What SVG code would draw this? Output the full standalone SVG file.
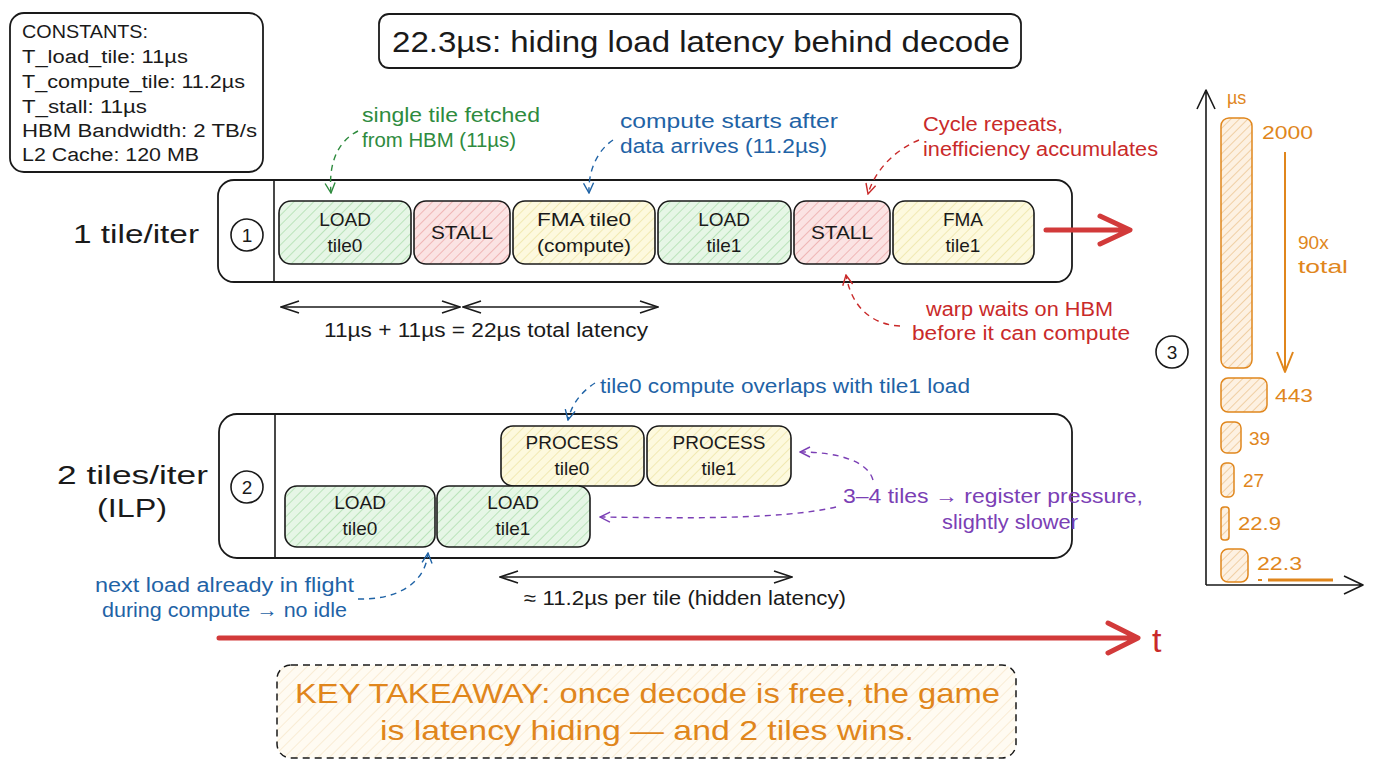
<svg xmlns="http://www.w3.org/2000/svg" width="1376" height="768" viewBox="0 0 1376 768">
<style>
text{font-family:"Liberation Sans","Noto Sans",sans-serif;}
.box{stroke:#1a1a1a;stroke-width:1.6;}
.lbl{font-size:19px;fill:#1a1a1a;text-anchor:middle;}
.frame{fill:#fff;stroke:#1a1a1a;stroke-width:1.8;}
.dash{fill:none;stroke-width:1.4;stroke-dasharray:6 5;}
.ann{font-size:20px;}
.cst{font-size:18px;fill:#1a1a1a;}
.blk{fill:none;stroke:#1a1a1a;stroke-width:1.8;}
.org{fill:#e0861c;}
</style>
<defs>
<pattern id="hG" width="7" height="7" patternUnits="userSpaceOnUse" patternTransform="rotate(45)"><rect width="7" height="7" fill="#e6f6e6"/><line x1="0" y1="0" x2="0" y2="7" stroke="#a8dca8" stroke-width="1.4"/></pattern>
<pattern id="hR" width="7" height="7" patternUnits="userSpaceOnUse" patternTransform="rotate(45)"><rect width="7" height="7" fill="#fbe3e3"/><line x1="0" y1="0" x2="0" y2="7" stroke="#eaa3a3" stroke-width="1.4"/></pattern>
<pattern id="hY" width="7" height="7" patternUnits="userSpaceOnUse" patternTransform="rotate(45)"><rect width="7" height="7" fill="#fdf9de"/><line x1="0" y1="0" x2="0" y2="7" stroke="#ece3a0" stroke-width="1.4"/></pattern>
<pattern id="hO" width="6" height="6" patternUnits="userSpaceOnUse" patternTransform="rotate(45)"><rect width="6" height="6" fill="#fdf1e2"/><line x1="0" y1="0" x2="0" y2="6" stroke="#e8b87a" stroke-width="1.2"/></pattern>
<pattern id="hK" width="8" height="8" patternUnits="userSpaceOnUse" patternTransform="rotate(45)"><rect width="8" height="8" fill="#fffbf2"/><line x1="0" y1="0" x2="0" y2="8" stroke="#f6e3c2" stroke-width="1.2"/></pattern>
<marker id="aG" viewBox="0 0 12 12" refX="11" refY="6" markerWidth="12" markerHeight="12" markerUnits="userSpaceOnUse" orient="auto"><path d="M1,1 L11,6 L1,11" fill="none" stroke="#2e8b3e" stroke-width="1.4"/></marker>
<marker id="aB" viewBox="0 0 12 12" refX="11" refY="6" markerWidth="12" markerHeight="12" markerUnits="userSpaceOnUse" orient="auto"><path d="M1,1 L11,6 L1,11" fill="none" stroke="#1f63a6" stroke-width="1.4"/></marker>
<marker id="aR" viewBox="0 0 12 12" refX="11" refY="6" markerWidth="12" markerHeight="12" markerUnits="userSpaceOnUse" orient="auto"><path d="M1,1 L11,6 L1,11" fill="none" stroke="#c92a2a" stroke-width="1.4"/></marker>
<marker id="aP" viewBox="0 0 12 12" refX="11" refY="6" markerWidth="12" markerHeight="12" markerUnits="userSpaceOnUse" orient="auto"><path d="M1,1 L11,6 L1,11" fill="none" stroke="#7b3fb5" stroke-width="1.4"/></marker>
<marker id="aK" viewBox="0 0 20 14" refX="19" refY="7" markerWidth="20" markerHeight="14" markerUnits="userSpaceOnUse" orient="auto-start-reverse"><path d="M1,1 L19,7 L1,13" fill="none" stroke="#1a1a1a" stroke-width="1.6"/></marker>
</defs>
<rect width="1376" height="768" fill="#ffffff"/>

<g id="constants">
<rect x="10" y="13" width="253" height="159" rx="14" class="blk"/>
<text x="22" y="38" class="cst" textLength="126" lengthAdjust="spacingAndGlyphs">CONSTANTS:</text>
<text x="22" y="63" class="cst" textLength="166" lengthAdjust="spacingAndGlyphs">T_load_tile: 11µs</text>
<text x="22" y="88" class="cst" textLength="223" lengthAdjust="spacingAndGlyphs">T_compute_tile: 11.2µs</text>
<text x="22" y="113" class="cst" textLength="125" lengthAdjust="spacingAndGlyphs">T_stall: 11µs</text>
<text x="22" y="137" class="cst" textLength="235" lengthAdjust="spacingAndGlyphs">HBM Bandwidth: 2 TB/s</text>
<text x="22" y="161" class="cst" textLength="177" lengthAdjust="spacingAndGlyphs">L2 Cache: 120 MB</text>
</g>

<g id="title">
<rect x="379" y="14" width="642" height="54" rx="10" class="blk"/>
<text x="392" y="52" font-size="30" fill="#1a1a1a" textLength="618" lengthAdjust="spacingAndGlyphs">22.3µs: hiding load latency behind decode</text>
</g>

<g id="row1">
<text x="73" y="243" font-size="25" fill="#1a1a1a" textLength="126" lengthAdjust="spacingAndGlyphs">1 tile/iter</text>
<rect x="218" y="180" width="854" height="102" rx="16" class="frame"/>
<line x1="274" y1="180" x2="274" y2="282" stroke="#1a1a1a" stroke-width="1.6"/>
<circle cx="247" cy="235" r="16" fill="none" stroke="#1a1a1a" stroke-width="1.6"/>
<text x="247" y="242" font-size="19" text-anchor="middle" fill="#1a1a1a">1</text>
</g>
<g id="r1-load0"><rect x="279" y="201" width="132" height="63" rx="12" fill="url(#hG)" class="box"/><text x="345" y="226" class="lbl">LOAD</text><text x="345" y="252" class="lbl">tile0</text></g>
<g id="r1-stall0"><rect x="414" y="201" width="96" height="63" rx="12" fill="url(#hR)" class="box"/><text x="462" y="239" class="lbl" textLength="62" lengthAdjust="spacingAndGlyphs">STALL</text></g>
<g id="r1-fma0"><rect x="513" y="201" width="142" height="63" rx="12" fill="url(#hY)" class="box"/><text x="584" y="226" class="lbl" textLength="94" lengthAdjust="spacingAndGlyphs">FMA tile0</text><text x="584" y="252" class="lbl" textLength="94" lengthAdjust="spacingAndGlyphs">(compute)</text></g>
<g id="r1-load1"><rect x="658" y="201" width="133" height="63" rx="12" fill="url(#hG)" class="box"/><text x="724" y="226" class="lbl">LOAD</text><text x="724" y="252" class="lbl">tile1</text></g>
<g id="r1-stall1"><rect x="794" y="201" width="96" height="63" rx="12" fill="url(#hR)" class="box"/><text x="842" y="239" class="lbl" textLength="62" lengthAdjust="spacingAndGlyphs">STALL</text></g>
<g id="r1-fma1"><rect x="893" y="201" width="141" height="63" rx="12" fill="url(#hY)" class="box"/><text x="963" y="226" class="lbl">FMA</text><text x="963" y="252" class="lbl">tile1</text></g>

<g id="row2">
<text x="57" y="484" font-size="25" fill="#1a1a1a" textLength="151" lengthAdjust="spacingAndGlyphs">2 tiles/iter</text>
<text x="97" y="517" font-size="25" fill="#1a1a1a" textLength="70" lengthAdjust="spacingAndGlyphs">(ILP)</text>
<rect x="219" y="414" width="853" height="144" rx="18" class="frame"/>
<line x1="275" y1="414" x2="275" y2="558" stroke="#1a1a1a" stroke-width="1.6"/>
<circle cx="247" cy="487" r="16" fill="none" stroke="#1a1a1a" stroke-width="1.6"/>
<text x="247" y="494" font-size="19" text-anchor="middle" fill="#1a1a1a">2</text>
</g>
<g id="r2-proc0"><rect x="501" y="426" width="143" height="60" rx="12" fill="url(#hY)" class="box"/><text x="572" y="449" class="lbl">PROCESS</text><text x="572" y="475" class="lbl">tile0</text></g>
<g id="r2-proc1"><rect x="647" y="426" width="144" height="60" rx="12" fill="url(#hY)" class="box"/><text x="719" y="449" class="lbl">PROCESS</text><text x="719" y="475" class="lbl">tile1</text></g>
<g id="r2-load0"><rect x="285" y="486" width="150" height="61" rx="12" fill="url(#hG)" class="box"/><text x="360" y="509" class="lbl">LOAD</text><text x="360" y="535" class="lbl">tile0</text></g>
<g id="r2-load1"><rect x="437" y="486" width="153" height="61" rx="12" fill="url(#hG)" class="box"/><text x="513" y="509" class="lbl">LOAD</text><text x="513" y="535" class="lbl">tile1</text></g>

<g id="annotations">
<text x="362" y="122" class="ann" fill="#2e8b3e" textLength="178" lengthAdjust="spacingAndGlyphs">single tile fetched</text>
<text x="362" y="147" class="ann" fill="#2e8b3e" textLength="154" lengthAdjust="spacingAndGlyphs">from HBM (11µs)</text>
<text x="620" y="128" class="ann" fill="#1f63a6" textLength="218" lengthAdjust="spacingAndGlyphs">compute starts after</text>
<text x="620" y="153" class="ann" fill="#1f63a6" textLength="207" lengthAdjust="spacingAndGlyphs">data arrives (11.2µs)</text>
<text x="923" y="131" class="ann" fill="#c92a2a" textLength="140" lengthAdjust="spacingAndGlyphs">Cycle repeats,</text>
<text x="923" y="156" class="ann" fill="#c92a2a" textLength="235" lengthAdjust="spacingAndGlyphs">inefficiency accumulates</text>
<text x="926" y="316" class="ann" fill="#c92a2a" textLength="187" lengthAdjust="spacingAndGlyphs">warp waits on HBM</text>
<text x="912" y="340" class="ann" fill="#c92a2a" textLength="218" lengthAdjust="spacingAndGlyphs">before it can compute</text>
<text x="324" y="337" font-size="20" fill="#1a1a1a" textLength="324" lengthAdjust="spacingAndGlyphs">11µs + 11µs = 22µs total latency</text>
<text x="600" y="393" class="ann" fill="#1f63a6" textLength="370" lengthAdjust="spacingAndGlyphs">tile0 compute overlaps with tile1 load</text>
<text x="843" y="503" class="ann" fill="#7b3fb5" textLength="300" lengthAdjust="spacingAndGlyphs">3–4 tiles → register pressure,</text>
<text x="942" y="529" class="ann" fill="#7b3fb5" textLength="136" lengthAdjust="spacingAndGlyphs">slightly slower</text>
<text x="95" y="592" class="ann" fill="#1f63a6" textLength="259" lengthAdjust="spacingAndGlyphs">next load already in flight</text>
<text x="102" y="617" class="ann" fill="#1f63a6" textLength="245" lengthAdjust="spacingAndGlyphs">during compute → no idle</text>
<text x="524" y="605" font-size="20" fill="#1a1a1a" textLength="322" lengthAdjust="spacingAndGlyphs">≈ 11.2µs per tile (hidden latency)</text>
<text x="1152" y="652" font-size="34" fill="#c92a2a">t</text>
</g>

<g id="connectors">
<path d="M358,131 C340,140 328,160 331,193" class="dash" stroke="#2e8b3e" marker-end="url(#aG)"/>
<path d="M613,140 C598,150 588,170 589,193" class="dash" stroke="#1f63a6" marker-end="url(#aB)"/>
<path d="M919,140 C895,150 875,170 868,194" class="dash" stroke="#c92a2a" marker-end="url(#aR)"/>
<path d="M900,326 C875,325 852,310 846,275" class="dash" stroke="#c92a2a" marker-end="url(#aR)"/>
<path d="M595,383 C584,390 572,402 568,420" class="dash" stroke="#1f63a6" marker-end="url(#aB)"/>
<path d="M873,480 C868,462 840,452 800,452" class="dash" stroke="#7b3fb5" marker-end="url(#aP)"/>
<path d="M836,507 C780,520 680,518 600,517" class="dash" stroke="#7b3fb5" marker-end="url(#aP)"/>
<path d="M358,599 C395,600 425,585 428,553" class="dash" stroke="#1f63a6" marker-end="url(#aB)"/>
<line x1="281" y1="307" x2="460" y2="307" stroke="#1a1a1a" stroke-width="1.6" marker-start="url(#aK)" marker-end="url(#aK)"/>
<line x1="463" y1="307" x2="658" y2="307" stroke="#1a1a1a" stroke-width="1.6" marker-start="url(#aK)" marker-end="url(#aK)"/>
<line x1="500" y1="577" x2="792" y2="577" stroke="#1a1a1a" stroke-width="1.6" marker-start="url(#aK)" marker-end="url(#aK)"/>
<path d="M1046,230 L1128,230 M1100,216 L1130,230 L1100,244" fill="none" stroke="#d23a3a" stroke-width="5" stroke-linecap="round" stroke-linejoin="round"/>
<path d="M219,638 L1136,638 M1108,623 L1138,638 L1108,653" fill="none" stroke="#d23a3a" stroke-width="5" stroke-linecap="round" stroke-linejoin="round"/>
</g>

<g id="chart">
<path d="M1206,585 L1206,91 M1197,109 L1206,90 L1215,109 M1206,585 L1362,585 M1344,576 L1363,585 L1344,594" fill="none" stroke="#1a1a1a" stroke-width="1.6" stroke-linejoin="round"/>
<text x="1227" y="104" font-size="18" class="org">µs</text>
<circle cx="1172" cy="352" r="16" fill="none" stroke="#1a1a1a" stroke-width="1.6"/>
<text x="1172" y="359" font-size="19" text-anchor="middle" fill="#1a1a1a">3</text>
<g stroke="#e0861c" stroke-width="1.5" fill="url(#hO)">
<rect x="1221" y="118" width="31" height="250" rx="8"/>
<rect x="1221" y="378" width="46" height="34" rx="7"/>
<rect x="1221" y="422" width="20" height="31" rx="6"/>
<rect x="1221" y="463" width="13" height="34" rx="5"/>
<rect x="1221" y="507" width="8" height="33" rx="3"/>
<rect x="1221" y="549" width="27" height="33" rx="7"/>
</g>
<g font-size="19" class="org">
<text x="1262" y="139" textLength="51" lengthAdjust="spacingAndGlyphs">2000</text>
<text x="1275" y="402" textLength="38" lengthAdjust="spacingAndGlyphs">443</text>
<text x="1249" y="445">39</text>
<text x="1243" y="487">27</text>
<text x="1238" y="530" textLength="43" lengthAdjust="spacingAndGlyphs">22.9</text>
<text x="1257" y="570" textLength="45" lengthAdjust="spacingAndGlyphs">22.3</text>
<text x="1298" y="249">90x</text>
<text x="1298" y="273" textLength="50" lengthAdjust="spacingAndGlyphs">total</text>
</g>
<path d="M1285,152 L1285,372 M1277,352 L1285,372 L1293,352" fill="none" stroke="#e0861c" stroke-width="2" stroke-linejoin="round"/>
<line x1="1268" y1="580" x2="1333" y2="580" stroke="#e0861c" stroke-width="3"/>
<line x1="1258" y1="580" x2="1262" y2="580" stroke="#e0861c" stroke-width="2"/>
</g>

<g id="takeaway">
<rect x="277" y="665" width="739" height="93" rx="14" fill="url(#hK)" stroke="#1a1a1a" stroke-width="1.5" stroke-dasharray="7 5"/>
<text x="295" y="703" font-size="28" fill="#e0861c" textLength="705" lengthAdjust="spacingAndGlyphs">KEY TAKEAWAY: once decode is free, the game</text>
<text x="380" y="740" font-size="28" fill="#e0861c" textLength="534" lengthAdjust="spacingAndGlyphs">is latency hiding — and 2 tiles wins.</text>
</g>
</svg>
